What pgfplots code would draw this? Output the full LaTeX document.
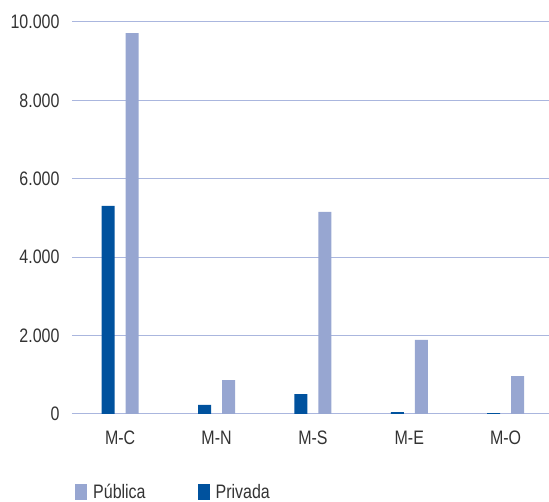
\documentclass[border=0pt]{standalone}
\usepackage{fontspec}
\setmainfont{Liberation Sans}[FakeStretch=0.82]
\usepackage{pgfplots}
\pgfplotsset{compat=1.18}
\definecolor{publica}{RGB}{151,166,209}
\definecolor{privada}{RGB}{0,82,158}
\definecolor{gridc}{RGB}{170,182,222}
\definecolor{txt}{RGB}{51,51,51}
\begin{document}
\begin{tikzpicture}
\path[use as bounding box] (-72pt,-88pt) rectangle (477pt,414pt);
\begin{axis}[
  at={(0pt,0pt)}, anchor=south west,
  scale only axis, width=477pt, height=392pt,
  ybar, bar width=13pt,
  xmin=-0.5, xmax=4.45, ymin=0, ymax=10000,
  axis x line*=bottom, axis y line*=left,
  x axis line style={draw=gridc, line width=1pt, -},
  y axis line style={draw=none},
  ymajorgrids, grid style={draw=gridc, line width=1pt},
  ytick={0,2000,4000,6000,8000,10000},
  xtick={0,1,2,3,4},
  xticklabels={M-C,M-N,M-S,M-E,M-O},
  major tick length=0pt,
  scaled y ticks=false,
  /pgf/number format/.cd, 1000 sep={.}, min exponent for 1000 sep=3, assume math mode=true,
  /pgfplots/.cd,
  ticklabel style={font=\fontsize{19.5}{22}\selectfont, text=txt},
  yticklabel style={anchor=east, xshift=-9pt},
  xticklabel style={anchor=center, yshift=-24pt},
  legend style={draw=none, fill=none, at={(axis description cs:0,0)}, anchor=west, xshift=0pt, yshift=-78pt,
    font=\fontsize{19.5}{22}\selectfont, text=txt, legend columns=2,
    /tikz/every even column/.append style={column sep=46pt}},
  legend image code/.code={\fill[#1] (0pt,-8pt) rectangle (12pt,8pt);},
  legend cell align=left,
  legend style={nodes={inner xsep=6pt}},
]
\addplot[fill=publica, draw=none, bar shift=12pt] coordinates {(0,9719) (1,867) (2,5153) (3,1888) (4,969)};
\addplot[fill=privada, draw=none, bar shift=-12pt] coordinates {(0,5306) (1,230) (2,510) (3,50) (4,25)};
\legend{Pública, Privada}
\end{axis}
\end{tikzpicture}
\end{document}
